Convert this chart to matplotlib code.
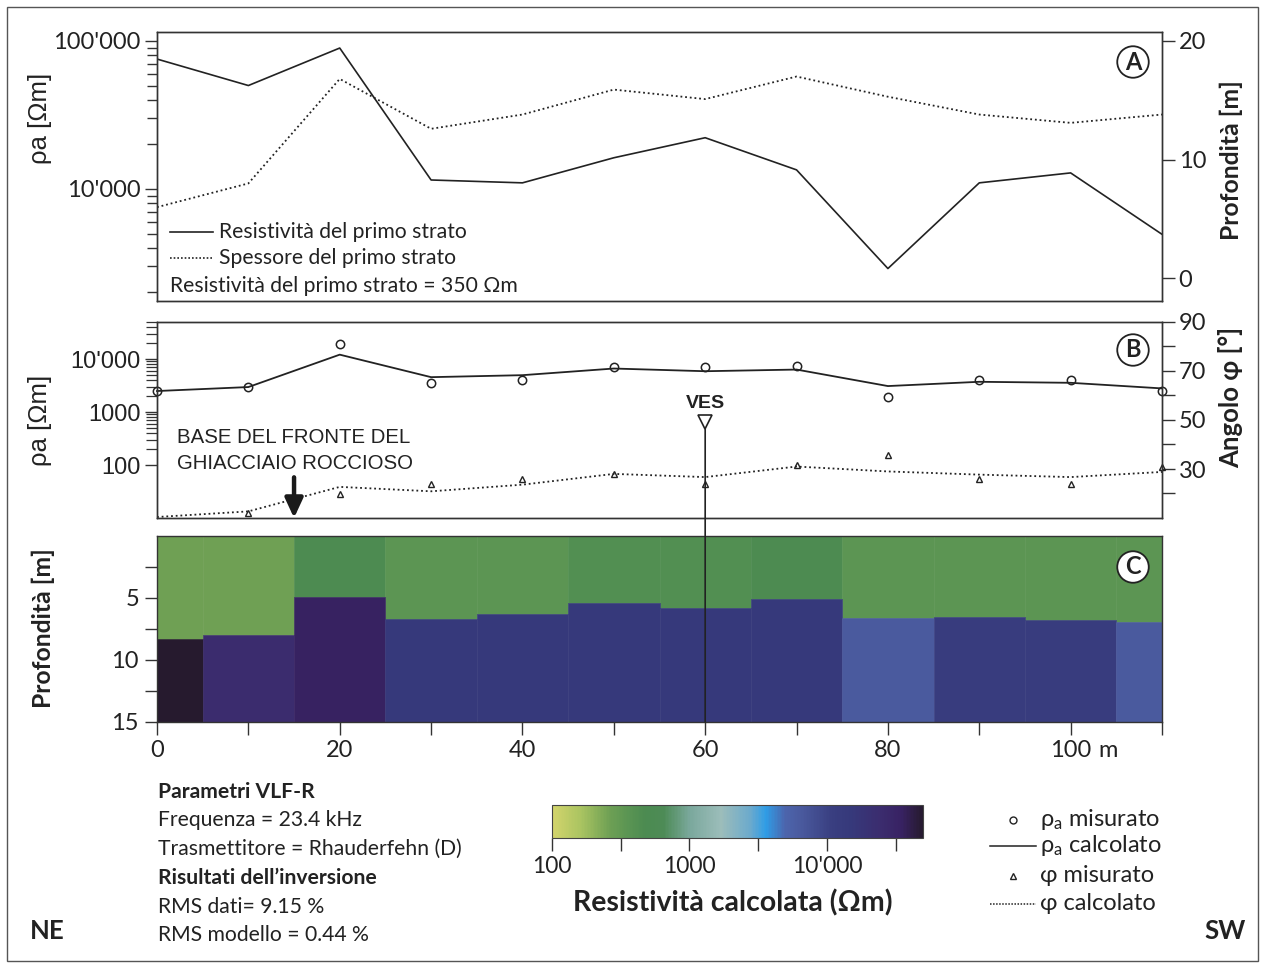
import numpy as np
import matplotlib
matplotlib.use('Agg')
import matplotlib.pyplot as plt
from matplotlib.colors import LogNorm, LinearSegmentedColormap
from matplotlib.patches import Rectangle, ConnectionPatch
from matplotlib.lines import Line2D
import matplotlib.ticker as mticker

plt.rcParams['font.family'] = ['Lato', 'Open Sans', 'DejaVu Sans']
plt.rcParams['mathtext.fontset'] = 'custom'
plt.rcParams['mathtext.rm'] = 'Lato'
plt.rcParams['mathtext.it'] = 'Lato:italic'
plt.rcParams['mathtext.bf'] = 'Lato:bold'

ARIAL = ['Liberation Sans', 'DejaVu Sans']
INK = '#222222'

# ---------------- data ----------------
# Panel A
x_stations = [0, 10, 20, 30, 40, 50, 60, 70, 80, 90, 100, 110]
rho_second_layer = [75500, 50000, 89600, 11500, 11000, 16250, 22200, 13460, 2900, 11000, 12840, 4940]
thickness_first_layer = [6.0, 8.0, 16.8, 12.6, 13.8, 15.9, 15.1, 17.0, 15.3, 13.8, 13.1, 13.8]

# Panel B
rho_measured = [2490, 2960, 19600, 3470, 3950, 7000, 7000, 7310, 1950, 3950, 3950, 2490]
rho_calculated = [2490, 2960, 12100, 4550, 4960, 6620, 5890, 6330, 3090, 3720, 3560, 2790]
x_phi_measured = [10, 20, 30, 40, 50, 60, 70, 80, 90, 100, 110]
phi_measured = [12.0, 19.9, 24.0, 25.9, 28.1, 24.0, 31.8, 35.8, 26.0, 24.0, 31.0]
phi_calculated = [10.4, 12.7, 22.7, 20.9, 23.6, 28.0, 26.7, 31.0, 29.0, 27.7, 26.7, 28.8]
ves_x = 60
front_x = 15

# Panel C (two-layer model)
col_edges = [0, 5, 15, 25, 35, 45, 55, 65, 75, 85, 95, 105, 110]
depth_layer1 = [8.3, 8.0, 4.9, 6.7, 6.3, 5.4, 5.8, 5.1, 6.6, 6.5, 6.8, 6.9]
rho_top = [260, 260, 470, 350, 350, 420, 420, 470, 350, 350, 350, 350]
rho_bottom = [50000, 25000, 35000, 15000, 15000, 15000, 15000, 15000, 6500, 12000, 12000, 6500]

# colour scale
cmap_values = [100, 160, 260, 350, 470, 650, 1000, 1700, 2800, 3600, 5000, 6500, 11000, 15000, 25000, 35000, 50000]
cmap_colors = ['#d3d46c', '#aac461', '#6ea054', '#5b9553', '#4c8b51', '#4d8b56', '#7aa89c', '#9cbdba',
               '#6aa9cd', '#2f9de6', '#4c64ac', '#4a5a9e', '#393e80', '#36397b', '#3b2c6e', '#382263', '#261a2e']
cbar_ticks = [100, 1000, 10000]
cbar_ticklabels = ['100', '1000', "10'000"]

# ---------------- figure ----------------
W, H = 1262, 966
fig = plt.figure(figsize=(W / 100, H / 100), dpi=100)
fig.patch.set_facecolor('white')


def fx(px):
    return px / W


def fy(py):
    return 1 - py / H


lmin, lmax = np.log10(cmap_values[0]), np.log10(cmap_values[-1])
pos = [(np.log10(v) - lmin) / (lmax - lmin) for v in cmap_values]
cmap = LinearSegmentedColormap.from_list('res', list(zip(pos, cmap_colors)))
norm = LogNorm(vmin=cmap_values[0], vmax=cmap_values[-1])

L, R = 157, 1162
tick_kw = dict(direction='out', length=9, width=1, color='#333333', labelcolor=INK)


def style_spines(ax):
    for s in ax.spines.values():
        s.set_color('#333333')
        s.set_linewidth(1.0)


# ---------------- Panel A ----------------
axA = fig.add_axes([fx(L), fy(301), fx(R - L), (301 - 32) / H])
axA.set_yscale('log')
axA.set_xlim(0, 110)
axA.set_ylim(1750, 115000)
axA.plot(x_stations, rho_second_layer, color=INK, lw=1.2)
axA.yaxis.set_major_locator(mticker.FixedLocator([1e4, 1e5]))
axA.yaxis.set_major_formatter(mticker.FixedFormatter(["10'000", "100'000"]))
axA.yaxis.set_minor_locator(mticker.FixedLocator([k * 1000 for k in range(2, 10)] + [k * 10000 for k in range(2, 10)]))
axA.yaxis.set_minor_formatter(mticker.NullFormatter())
axA.tick_params(axis='y', which='major', labelsize=17, pad=3, **tick_kw)
axA.tick_params(axis='y', which='minor', direction='out', length=7, width=1, color='#333333')
axA.tick_params(axis='x', bottom=False, labelbottom=False)
style_spines(axA)

axA2 = axA.twinx()
axA2.set_ylim(-1.9, 20.75)
axA2.plot(x_stations, thickness_first_layer, color=INK, lw=1.3, ls=(0, (1, 1.6)))
axA2.set_yticks([0, 10, 20])
axA2.tick_params(axis='y', labelsize=17, pad=3, **tick_kw)
style_spines(axA2)

# legend in panel A
y1 = (301 - 232) / 269
y2 = (301 - 258) / 269
y3 = (301 - 286) / 269
axA.add_line(Line2D([0.013, 0.056], [y1, y1], transform=axA.transAxes, color=INK, lw=1.2))
axA.add_line(Line2D([0.013, 0.056], [y2, y2], transform=axA.transAxes, color=INK, lw=1.2, ls=(0, (1, 1.2))))
axA.text(0.062, y1, 'Resistività del primo strato', transform=axA.transAxes, fontsize=15.2, va='center', color=INK)
axA.text(0.062, y2, 'Spessore del primo strato', transform=axA.transAxes, fontsize=15.2, va='center', color=INK)
axA.text(0.013, y3, 'Resistività del primo strato = 350 Ωm', transform=axA.transAxes, fontsize=15.2,
         va='center', color=INK)

circ = dict(boxstyle='circle,pad=0.18', fc='white', ec=INK, lw=1.3)
axA.text((1133 - L) / (R - L), (301 - 62) / 269, 'A', transform=axA.transAxes, fontsize=17,
         fontweight='bold', ha='center', va='center', bbox=circ, color=INK)

# ---------------- Panel B ----------------
axB = fig.add_axes([fx(L), fy(518), fx(R - L), 196 / H])
axB.set_yscale('log')
axB.set_xlim(0, 110)
axB.set_ylim(10, 50000)
axB.plot(x_stations, rho_calculated, color=INK, lw=1.3, clip_on=False, zorder=3)
axB.plot(x_stations, rho_measured, ls='none', marker='o', ms=6, mfc='none', mec=INK, mew=1.1,
         clip_on=False, zorder=4)
axB.yaxis.set_major_locator(mticker.FixedLocator([100, 1000, 10000]))
axB.yaxis.set_major_formatter(mticker.FixedFormatter(['100', '1000', "10'000"]))
axB.yaxis.set_minor_locator(mticker.FixedLocator([k * 100 for k in range(2, 10)] + [k * 1000 for k in range(2, 10)]
                                                 + [k * 10000 for k in range(2, 6)]))
axB.yaxis.set_minor_formatter(mticker.NullFormatter())
axB.tick_params(axis='y', which='major', labelsize=17, pad=3, **tick_kw)
axB.tick_params(axis='y', which='minor', direction='out', length=8, width=0.9, color='#333333')
for lab in axB.get_yticklabels():
    lab.set_family(ARIAL)
axB.tick_params(axis='x', bottom=False, labelbottom=False)
style_spines(axB)

axB2 = axB.twinx()
axB2.set_ylim(10, 90)
axB2.plot(x_stations, phi_calculated, color=INK, lw=1.3, ls=(0, (1, 1.6)), clip_on=False)
axB2.plot(x_phi_measured, phi_measured, ls='none', marker='^', ms=4.5, mfc='none', mec=INK, mew=1.0,
          clip_on=False)
axB2.set_yticks([30, 50, 70, 90])
axB2.set_yticks([20, 40, 60, 80], minor=True)
axB2.tick_params(axis='y', which='major', labelsize=17, pad=3, **tick_kw)
axB2.tick_params(axis='y', which='minor', direction='out', length=9, width=1, color='#333333')
style_spines(axB2)

# VES marker
axB2.plot([ves_x], [49], marker='v', ms=10, mfc='white', mec=INK, mew=1.2, zorder=5)
axB2.text(ves_x, 56.8, 'VES', ha='center', va='center', fontsize=14, fontweight='bold',
          family=ARIAL, color=INK)
# front annotation
axB2.text(2.2, 42.7, 'BASE DEL FRONTE DEL', fontsize=14.7, family=ARIAL, va='center', ha='left', color=INK)
axB2.text(2.2, 32.1, 'GHIACCIAIO ROCCIOSO', fontsize=14.7, family=ARIAL, va='center', ha='left', color=INK)
axB2.annotate('', xy=(front_x, 10), xytext=(front_x, 26.6),
              arrowprops=dict(arrowstyle='-|>,head_width=0.3,head_length=0.65', lw=3.2, color='#1a1a1a',
                              shrinkA=0, shrinkB=0, mutation_scale=18))
axB2.text((1133 - L) / (R - L), (518 - 350) / 196, 'B', transform=axB2.transAxes, fontsize=17,
          fontweight='bold', ha='center', va='center', bbox=circ, color=INK)

# ---------------- Panel C ----------------
axC = fig.add_axes([fx(L), fy(722), fx(R - L), 186 / H])
axC.set_xlim(0, 110)
axC.set_ylim(15, 0)
lefts = col_edges[:-1]
widths = np.diff(col_edges)
d1 = np.array(depth_layer1)
axC.bar(lefts, d1, width=widths, bottom=0, align='edge', color=cmap(norm(rho_top)),
        edgecolor=cmap(norm(rho_top)), linewidth=0.4)
axC.bar(lefts, 15 - d1, width=widths, bottom=d1, align='edge', color=cmap(norm(rho_bottom)),
        edgecolor=cmap(norm(rho_bottom)), linewidth=0.4)
axC.set_yticks([5, 10, 15])
axC.set_yticks([2.5, 7.5, 12.5], minor=True)
axC.set_xticks(list(range(0, 111, 10)))
axC.set_xticklabels(['0', '', '20', '', '40', '', '60', '', '80', '', '100', ''])
axC.tick_params(axis='both', which='major', labelsize=17, pad=4, **tick_kw)
axC.tick_params(axis='y', which='minor', direction='out', length=9, width=1, color='#333333')
style_spines(axC)
axC.text((1133 - L) / (R - L), (722 - 567) / 186, 'C', transform=axC.transAxes, fontsize=17,
         fontweight='bold', ha='center', va='center', bbox=circ, color=INK, zorder=6)
fig.text(fx(1098), fy(757), 'm', fontsize=17, va='baseline', ha='left', color=INK)

con = ConnectionPatch(xyA=(ves_x, 46.6), coordsA=axB2.transData, xyB=(ves_x, 15), coordsB=axC.transData,
                      color=INK, lw=1.2, zorder=10)
fig.add_artist(con)

# ---------------- axis labels ----------------
fig.text(fx(40), fy(118), 'ρa [Ωm]', rotation=90, ha='center', va='center', fontsize=18.5, family=ARIAL, color=INK)
fig.text(fx(40), fy(420), 'ρa [Ωm]', rotation=90, ha='center', va='center', fontsize=18.5, family=ARIAL, color=INK)
fig.text(fx(1231), fy(160), 'Profondità [m]', rotation=90, ha='center', va='center', fontsize=17.8,
         fontweight='bold', color=INK)
fig.text(fx(1231), fy(397), 'Angolo φ [°]', rotation=90, ha='center', va='center', fontsize=18.5,
         fontweight='bold', color=INK)
fig.text(fx(43), fy(628), 'Profondità [m]', rotation=90, ha='center', va='center', fontsize=17.8,
         fontweight='bold', color=INK)

# ---------------- colorbar ----------------
cax = fig.add_axes([fx(552), fy(838), fx(923 - 552), 33 / H])
sm = plt.cm.ScalarMappable(norm=norm, cmap=cmap)
cb = fig.colorbar(sm, cax=cax, orientation='horizontal')
cb.set_ticks(cbar_ticks)
cb.set_ticklabels(cbar_ticklabels)
cax.xaxis.set_minor_locator(mticker.FixedLocator([316, 3162, 31623]))
cax.xaxis.set_minor_formatter(mticker.NullFormatter())
cax.tick_params(axis='x', which='major', labelsize=16.5, pad=4, **tick_kw)
cax.tick_params(axis='x', which='minor', direction='out', length=9, width=1, color='#333333')
cb.outline.set_linewidth(0.8)
cb.outline.set_edgecolor('#444444')
fig.text(fx(733), fy(903), 'Resistività calcolata (Ωm)', ha='center', va='center', fontsize=20.5,
         fontweight='bold', color=INK)

# ---------------- bottom-left text ----------------
lines = [('Parametri VLF-R', 'bold'), ('Frequenza = 23.4 kHz', 'normal'),
         ('Trasmettitore = Rhauderfehn (D)', 'normal'), ('Risultati dell’inversione', 'bold'),
         ('RMS dati= 9.15 %', 'normal'), ('RMS modello = 0.44 %', 'normal')]
ys = [792, 820, 849, 878, 907, 935]
for (t, w), yy in zip(lines, ys):
    fig.text(fx(158), fy(yy), t, fontsize=15.2, fontweight=w, va='center', ha='left', color=INK)

fig.text(fx(47), fy(931), 'NE', fontsize=18.5, fontweight='bold', ha='center', va='center', color=INK)
fig.text(fx(1225), fy(931), 'SW', fontsize=18.5, fontweight='bold', ha='center', va='center', color=INK)

# ---------------- bottom-right legend ----------------
leg_y = [820, 846, 876, 904]
fig.add_artist(Line2D([fx(1013)], [fy(leg_y[0])], marker='o', ms=5, mfc='none', mec=INK, mew=1.0, ls='none',
                      transform=fig.transFigure))
fig.add_artist(Line2D([fx(990), fx(1036)], [fy(leg_y[1])] * 2, color=INK, lw=1.1, transform=fig.transFigure))
fig.add_artist(Line2D([fx(1013)], [fy(leg_y[2])], marker='^', ms=4.5, mfc='none', mec=INK, mew=1.0, ls='none',
                      transform=fig.transFigure))
fig.add_artist(Line2D([fx(990), fx(1036)], [fy(leg_y[3])] * 2, color=INK, lw=1.1, ls=(0, (1, 1)),
                      transform=fig.transFigure))
leg_txt = ['ρ$_{\\mathrm{a}}$ misurato', 'ρ$_{\\mathrm{a}}$ calcolato', 'φ misurato', 'φ calcolato']
for t, yy in zip(leg_txt, leg_y):
    fig.text(fx(1040), fy(yy), t, fontsize=17, va='center', ha='left', color=INK)

# outer frame
fig.add_artist(Rectangle((fx(7), fy(961)), fx(1258 - 7), (961 - 7) / H, transform=fig.transFigure,
                         fill=False, ec='#555555', lw=1.0))

fig.savefig('out.png', dpi=100, facecolor='white')
